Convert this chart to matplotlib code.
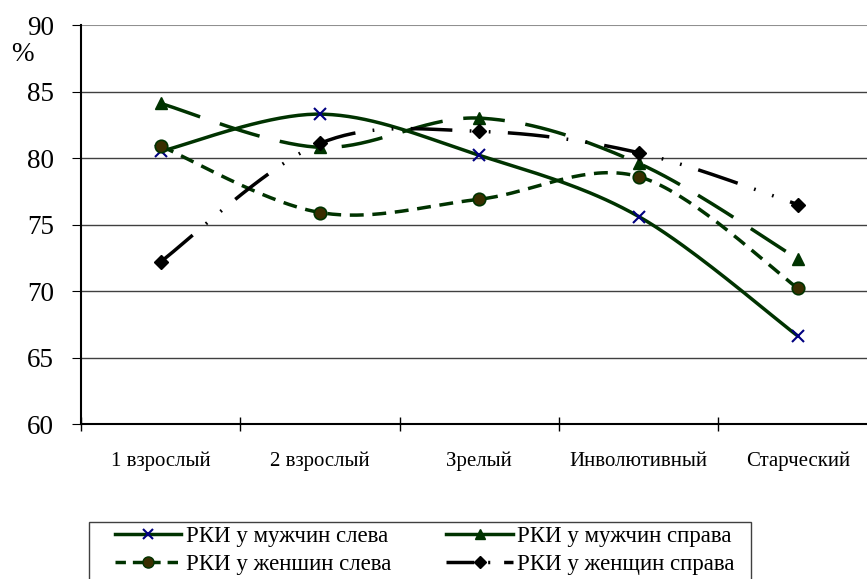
import numpy as np
import matplotlib
matplotlib.use('Agg')
import matplotlib.pyplot as plt
from matplotlib.lines import Line2D
from matplotlib.patches import Rectangle

# Data
categories = ['1 взрослый', '2 взрослый', 'Зрелый', 'Инволютивный', 'Старческий']
men_left = [80.5, 83.3, 80.2, 75.6, 66.6]
men_right = [84.1, 80.8, 83.0, 79.6, 72.4]
women_left = [80.9, 75.9, 76.9, 78.6, 70.2]
women_right = [72.2, 81.1, 82.0, 80.4, 76.5]
labels = ['РКИ у мужчин слева', 'РКИ у мужчин справа',
          'РКИ у женшин слева', 'РКИ у женщин справа']

plt.rcParams['font.family'] = ['Liberation Serif', 'DejaVu Serif']
plt.rcParams['ytick.major.pad'] = 13
plt.rcParams['ytick.major.size'] = 6.5
plt.rcParams['ytick.labelsize'] = 19.5

green = '#003300'


def smooth(xs, ys, n=40):
    # Excel-like smoothed line: cubic Bezier with Catmull-Rom control points
    xs = np.asarray(xs, float)
    ys = np.asarray(ys, float)
    px = np.concatenate([[xs[0]], xs, [xs[-1]]])
    py = np.concatenate([[ys[0]], ys, [ys[-1]]])
    outx, outy = [], []
    t = np.linspace(0, 1, n)
    for i in range(1, len(xs)):
        p0 = np.array([px[i], py[i]])
        p3 = np.array([px[i + 1], py[i + 1]])
        c1 = p0 + (np.array([px[i + 1], py[i + 1]]) - np.array([px[i - 1], py[i - 1]])) / 6
        c2 = p3 - (np.array([px[i + 2], py[i + 2]]) - np.array([px[i], py[i]])) / 6
        b = ((1 - t) ** 3)[:, None] * p0 + (3 * (1 - t) ** 2 * t)[:, None] * c1 \
            + (3 * (1 - t) * t ** 2)[:, None] * c2 + (t ** 3)[:, None] * p3
        outx.extend(b[:, 0])
        outy.extend(b[:, 1])
    return outx, outy


fig = plt.figure(figsize=(8.67, 5.79), dpi=100)
ax = fig.add_axes([0.0934, 0.2677, 0.919, 0.6891])

x = np.arange(len(categories))

for v in [65, 70, 75, 80, 85]:
    ax.axhline(v, color='#404040', lw=1, zorder=0)
ax.axhline(90, color='#909090', lw=1.5, zorder=0)

sx, sy = smooth(x, men_left)
ax.plot(sx, sy, color=green, lw=2.5, solid_capstyle='butt')
ax.plot(x, men_left, ls='none', marker='x', ms=9, mew=1.5, color='#000080')

sx, sy = smooth(x, men_right)
ax.plot(sx, sy, color=green, lw=2.5, dashes=(12, 6))
ax.plot(x, men_right, ls='none', marker='^', ms=8, color=green)

sx, sy = smooth(x, women_left)
ax.plot(sx, sy, color=green, lw=2.5, dashes=(4, 2.5))
ax.plot(x, women_left, ls='none', marker='o', ms=9, mfc='#3a2e00', mec=green, mew=1.2)

sx, sy = smooth(x, women_right)
ax.plot(sx, sy, color='black', lw=2.5, dashes=(12, 5, 0.5, 5, 0.5, 5))
ax.plot(x, women_right, ls='none', marker='D', ms=7, color='black')

ax.set_xlim(-0.5, len(categories) - 0.5)
ax.set_ylim(60, 90)
ax.set_yticks([60, 65, 70, 75, 80, 85, 90])
ax.set_xticks(x)
ax.set_xticklabels(categories)
ax.tick_params(axis='x', which='major', length=0, labelsize=15, pad=20)
ax.set_xticks(np.arange(len(categories) + 1) - 0.5, minor=True)
ax.tick_params(axis='x', which='minor', direction='inout', length=10, width=1)

for s in ['top', 'right']:
    ax.spines[s].set_visible(False)
ax.spines['left'].set_linewidth(1.5)
ax.spines['bottom'].set_linewidth(1.5)

fig.text(0.013, 0.895, '%', fontsize=19.5)

handles = [
    Line2D([], [], color=green, lw=2.5, marker='x', ms=7, mec='#000080', mew=1.5),
    Line2D([], [], color=green, lw=2.5, dashes=(3, 2), marker='o', ms=8, mfc='#3a2e00', mec=green),
    Line2D([], [], color=green, lw=2.5, marker='^', ms=7),
    Line2D([], [], color='black', lw=2.5, dashes=(8, 4, 0.6, 4), marker='D', ms=6),
]
leg_labels = [labels[0], labels[2], labels[1], labels[3]]
fig.legend(handles, leg_labels, loc='upper left', ncol=2,
           bbox_to_anchor=(0.1326, 0.092), fontsize=16.5,
           frameon=False, handlelength=2.9, handletextpad=0.2,
           columnspacing=2.4, borderaxespad=0, labelspacing=0.3, borderpad=0)

fig.patches.append(Rectangle((0.1027, -0.05), 0.7636, 0.1484, transform=fig.transFigure,
                             fill=False, edgecolor='#404040', lw=1))

fig.savefig('out.png', dpi=100)
